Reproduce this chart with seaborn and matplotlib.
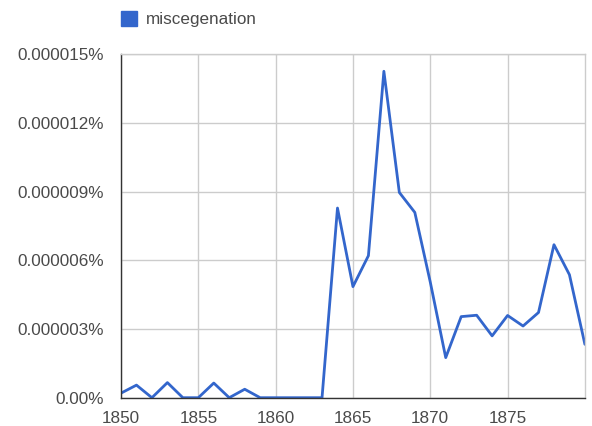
import matplotlib
matplotlib.use("Agg")
import matplotlib.pyplot as plt
import matplotlib.patches as mpatches
import seaborn as sns
import pandas as pd

# values, in percent
years = list(range(1850, 1881))
values = [
    0.20, 0.55, 0.00, 0.66, 0.00, 0.00, 0.64, 0.00, 0.37, 0.00,
    0.00, 0.00, 0.00, 0.00, 8.28, 4.85, 6.20, 14.25, 8.96, 8.09,
    5.05, 1.75, 3.54, 3.60, 2.70, 3.59, 3.13, 3.72, 6.68, 5.37,
    2.33,
]
values = [v * 1e-6 for v in values]
series_name = "miscegenation"
y_ticks = [0, 3e-6, 6e-6, 9e-6, 12e-6, 15e-6]
y_labels = ["0.00%", "0.000003%", "0.000006%", "0.000009%", "0.000012%", "0.000015%"]
x_ticks = [1850, 1855, 1860, 1865, 1870, 1875]

df = pd.DataFrame({"year": years, "value": values})

sns.set_style("white")
plt.rcParams["font.family"] = ["Liberation Sans", "DejaVu Sans"]

line_color = "#3366cc"
grid_color = "#cccccc"
text_color = "#4a4a4a"

fig = plt.figure(figsize=(5.92, 4.26), dpi=100)
ax = fig.add_axes([0.2044, 0.0664, 0.7836, 0.8066])

sns.lineplot(data=df, x="year", y="value", ax=ax, color=line_color, linewidth=2.0)

ax.set_xlim(1850, 1880)
ax.set_ylim(0, 15e-6)
ax.set_xticks(x_ticks)
ax.set_yticks(y_ticks)
ax.set_yticklabels(y_labels)
ax.set_xlabel("")
ax.set_ylabel("")
ax.grid(True, color=grid_color, linewidth=1.0)
ax.set_axisbelow(True)
ax.tick_params(axis="both", length=0, labelsize=12.3, colors=text_color)
ax.tick_params(axis="y", pad=12)
ax.tick_params(axis="x", pad=9.5)

for side in ["top", "right"]:
    ax.spines[side].set_color(grid_color)
    ax.spines[side].set_linewidth(1.0)
for side in ["left", "bottom"]:
    ax.spines[side].set_color("#333333")
    ax.spines[side].set_linewidth(1.0)

# legend in the google ngram style
handle = mpatches.Patch(color=line_color, label=series_name)
fig.legend(handles=[handle], loc="upper left", bbox_to_anchor=(0.178, 1.01),
           frameon=False, fontsize=12.3, handlelength=0.95, handleheight=0.95,
           handletextpad=0.55, labelcolor=text_color)

fig.savefig("out.png", dpi=100)
